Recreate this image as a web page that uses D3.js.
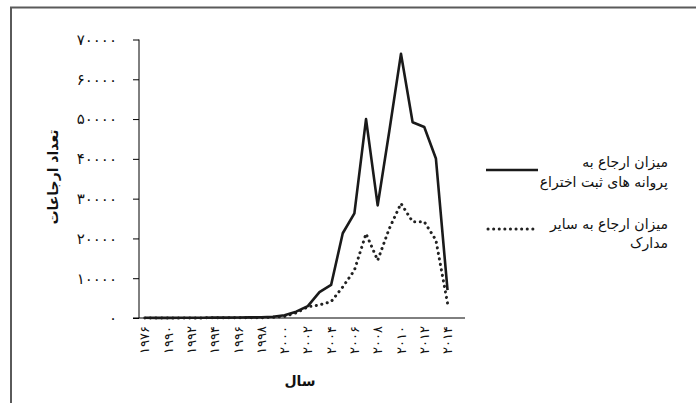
<!DOCTYPE html>
<html><head><meta charset="utf-8">
<script src="https://cdn.jsdelivr.net/npm/d3@7"></script>
<style>
html,body{margin:0;padding:0;background:#fff;}
svg{display:block;}
text{font-family:"DejaVu Sans",Arial,sans-serif;fill:#111;}
</style></head>
<body><svg id="chart" width="696" height="403"></svg>
<script>
const years = [1976,1989,1990,1991,1992,1993,1994,1995,1996,1997,1998,1999,2000,2001,2002,2003,2004,2005,2006,2007,2008,2009,2010,2011,2012,2013,2014,2015];
const patentCitations = [50,30,40,50,60,80,90,100,120,150,180,300,700,1600,3000,6500,8300,21300,26300,50000,28300,47000,66400,49200,48000,40100,7000,null];
const otherCitations  = [20,10,20,20,30,30,40,40,50,60,80,150,400,1300,2800,3300,4100,7800,12000,21200,14500,22500,28800,24200,24200,19600,3700,null];
const xTickYears = [1976,1990,1992,1994,1996,1998,2000,2002,2004,2006,2008,2010,2012,2014];
const xTickLabels = ["۱۹۷۶","۱۹۹۰","۱۹۹۲","۱۹۹۴","۱۹۹۶","۱۹۹۸","۲۰۰۰","۲۰۰۲","۲۰۰۴","۲۰۰۶","۲۰۰۸","۲۰۱۰","۲۰۱۲","۲۰۱۴"];
const yTickValues = [0,10000,20000,30000,40000,50000,60000,70000];
const yTickLabels = ["۰","۱۰۰۰۰","۲۰۰۰۰","۳۰۰۰۰","۴۰۰۰۰","۵۰۰۰۰","۶۰۰۰۰","۷۰۰۰۰"];
const seriesNames = [["میزان ارجاع به","پروانه های ثبت اختراع"],["میزان ارجاع به سایر","مدارک"]];
const yTitle = "تعداد ارجاعات";
const xTitle = "سال";

const svg = d3.select("#chart");
// frame
svg.append("rect").attr("x",11).attr("y",7.5).attr("width",700).attr("height",410)
  .attr("fill","#fff").attr("stroke","#5a5a5a").attr("stroke-width",2);

const x = d3.scalePoint().domain(years).range([139,465]).padding(0.5);
const y = d3.scaleLinear().domain([0,70000]).range([318,39.5]);

// y axis
const yAxis = d3.axisLeft(y).tickValues(yTickValues).tickSize(6).tickPadding(16)
  .tickFormat((d,i)=>yTickLabels[i]);
const gy = svg.append("g").attr("transform","translate(139,0)").call(yAxis);
gy.select(".domain").attr("stroke","#000").attr("d","M0,39.5V318");
gy.selectAll(".tick line").attr("stroke","#000");
gy.selectAll(".tick text").attr("font-size",15).attr("letter-spacing","6px")
  .style("font-family","DejaVu Sans").attr("fill","#111");

// x axis
const gx = svg.append("g").attr("transform","translate(0,318)");
gx.append("line").attr("x1",133).attr("x2",465).attr("y1",0).attr("y2",0).attr("stroke","#000");
gx.selectAll("text.xl").data(xTickYears).join("text").attr("class","xl")
  .attr("transform",d=>`translate(${x(d)},8) rotate(-90)`)
  .attr("text-anchor","end").attr("dy","0.35em").attr("font-size",13)
  .attr("letter-spacing","5px")
  .text((d,i)=>xTickLabels[i]);

// lines
const line = d3.line().defined(d=>d[1]!=null).x(d=>x(d[0])).y(d=>y(d[1]));
svg.append("path").datum(years.map((yr,i)=>[yr,otherCitations[i]]))
  .attr("d",line).attr("fill","none").attr("stroke","#222").attr("stroke-width",3)
  .attr("stroke-dasharray","0.1 5.5").attr("stroke-linecap","round");
svg.append("path").datum(years.map((yr,i)=>[yr,patentCitations[i]]))
  .attr("d",line).attr("fill","none").attr("stroke","#1a1a1a").attr("stroke-width",2.6)
  .attr("stroke-linejoin","round");

// titles
svg.append("text").attr("transform","translate(53,177) rotate(-90)")
  .attr("text-anchor","middle").attr("dy","0.35em").attr("font-size",14).attr("font-weight","bold")
  .text(yTitle);
svg.append("text").attr("x",300).attr("y",381).attr("text-anchor","middle").attr("dy","0.35em")
  .attr("font-size",14).attr("font-weight","bold").text(xTitle);

// legend
const lg = svg.append("g");
lg.append("line").attr("x1",486).attr("x2",538).attr("y1",170).attr("y2",170)
  .attr("stroke","#1a1a1a").attr("stroke-width",2.6);
lg.append("line").attr("x1",488).attr("x2",538).attr("y1",229).attr("y2",229)
  .attr("stroke","#222").attr("stroke-width",3).attr("stroke-dasharray","0.1 5.5").attr("stroke-linecap","round");
seriesNames[0].forEach((t,i)=>lg.append("text").attr("x",668).attr("y",162+i*20).attr("text-anchor","end")
  .attr("dy","0.35em").attr("font-size",14).text(t));
seriesNames[1].forEach((t,i)=>lg.append("text").attr("x",668).attr("y",224+i*19).attr("text-anchor","end")
  .attr("dy","0.35em").attr("font-size",14).text(t));
</script></body></html>
